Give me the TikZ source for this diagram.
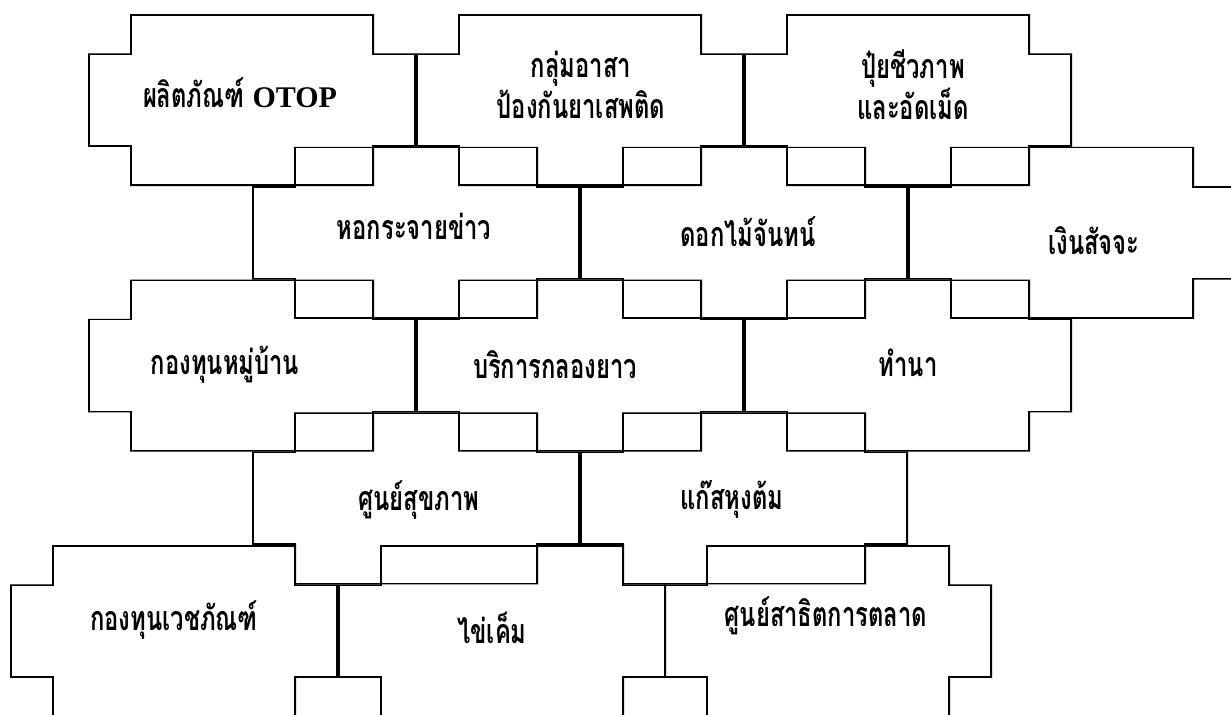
\documentclass[tikz,border=0pt]{standalone}
\usepackage{fontspec}
\newfontfamily\thaifont[Script=Thai, FakeStretch=0.7]{Loma}
\newfontfamily\latinfont{Liberation Serif}

% outline of one piece, around its centre
\def\piecepath{(-122,-86) -- (122,-86) -- (122,-46.75) -- (164,-46.75) -- (164,46.75) -- (122,46.75) -- (122,86) -- (-122,86) -- (-122,46.75) -- (-164,46.75) -- (-164,-46.75) -- (-122,-46.75) -- cycle}

\begin{document}
\begin{tikzpicture}[x=0.5pt, y=-0.5pt]
  \tikzstyle{piecetext} = [font=\thaifont\bfseries\fontsize{17}{20.5}\selectfont, align=center, inner sep=0pt]
  \tikzset{piece/.pic={\begin{scope}\clip \piecepath; \draw[line width=1.7pt] \piecepath; \end{scope}}}
  \useasboundingbox (0,0) rectangle (1231,714);
  \fill[white] (0,0) rectangle (1231,714);
  % pieces, row by row
  \foreach \cx/\cy in {252/98, 580/98, 908/98,
                       416/230.75, 744/230.75, 1072/230.75,
                       252/363.5, 580/363.5, 908/363.5,
                       416/496.25, 744/496.25,
                       174/629, 502/629, 828/629}
    \pic at (\cx,\cy+2) {piece};
  % texts
  \node[piecetext] (otop) at (240,93) {ผลิตภัณฑ์ {\latinfont\fontsize{15}{18}\selectfont OTOP}};
  \node[piecetext] (asa) at (581,85) {กลุ่มอาสา\\ป้องกันยาเสพติด};
  \node[piecetext] (puy) at (913,85) {ปุ๋ยชีวภาพ\\และอัดเม็ด};
  \node[piecetext] (hokra) at (414,226) {หอกระจายข่าว};
  \node[piecetext] (dokmai) at (748,232) {ดอกไม้จันทน์};
  \node[piecetext] (ngoen) at (1094,241) {เงินสัจจะ};
  \node[piecetext] (kongtun) at (225,365) {กองทุนหมู่บ้าน};
  \node[piecetext] (klong) at (555,365) {บริการกลองยาว};
  \node[piecetext] (thamna) at (908,363) {ทำนา};
  \node[piecetext] (sukhaphap) at (419,500) {ศูนย์สุขภาพ};
  \node[piecetext] (kas) at (732,499) {แก๊สหุงต้ม};
  \node[piecetext] (vet) at (174,620) {กองทุนเวชภัณฑ์};
  \node[piecetext] (khaikhem) at (492,628) {ไข่เค็ม};
  \node[piecetext] (satit) at (826,616) {ศูนย์สาธิตการตลาด};
\end{tikzpicture}
\end{document}
